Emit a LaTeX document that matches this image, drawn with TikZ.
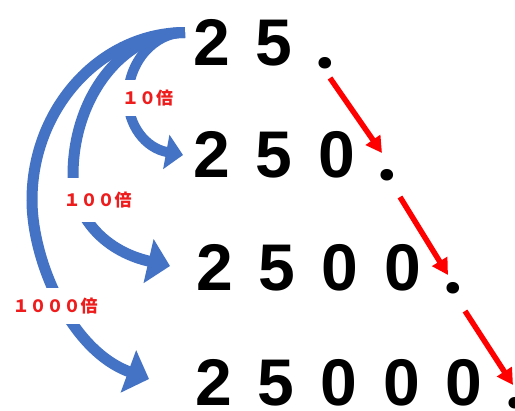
\documentclass[tikz,border=0pt]{standalone}
\usepackage{fontspec}
\newfontfamily\jpfont{Noto Sans CJK JP}
\newfontfamily\numfont{Liberation Sans}
\newfontfamily\dotfont{Poppins}
\usetikzlibrary{arrows.meta}
\definecolor{arrowblue}{HTML}{4472C4}
\definecolor{labelred}{HTML}{EE1C1C}
\definecolor{arrowred}{HTML}{FF0000}
\newcommand\dgap{\kern26bp }
\newcommand\pgap{\kern23.5bp }
\newcommand\bigdot{{\dotfont\fontsize{62bp}{62bp}\selectfont\raisebox{-3bp}{.}}}
\tikzset{
  numtext/.style={font=\numfont\bfseries\fontsize{66bp}{66bp}\selectfont, inner sep=0pt, text=black, anchor=base west},
  timeslabel/.style={font=\jpfont\bfseries\fontsize{17bp}{17bp}\selectfont, text=labelred, fill=white, inner xsep=3bp, inner ysep=0pt, minimum height=36bp},
  bluesmall/.style={draw=arrowblue, line width=10bp, -{Triangle[length=17bp,width=34bp]}, arrowblue},
  bluebig/.style={draw=arrowblue, line width=11bp, -{Triangle[length=22bp,width=44bp]}, arrowblue},
  redarrow/.style={draw=arrowred, line width=5.5bp, -{Triangle[length=16bp,width=17bp]}, arrowred}
}
\begin{document}
\begin{tikzpicture}[x=1bp,y=-1bp]
\useasboundingbox (0,0) rectangle (515,410);
\fill[white] (0,0) rectangle (515,410);
% number rows
\node[numtext] (r1) at (193,65) {2\dgap 5\pgap\bigdot};
\node[numtext] (r2) at (193,177) {2\dgap 5\dgap 0\pgap\bigdot};
\node[numtext] (r3) at (196,290) {2\dgap 5\dgap 0\dgap 0\pgap\bigdot};
\node[numtext] (r4) at (195,405) {2\dgap 5\dgap 0\dgap 0\dgap 0\pgap\bigdot};
% blue curved arrows
\draw[bluebig] ([shift={(-8,-32.5)}]r1.base west) .. controls (101,32.5) and (32,108) .. (32,200)
  .. controls (32,260) and (70,350) .. ([shift={(-46,-26)}]r4.base west);
\draw[bluebig] ([shift={(-8,-32.5)}]r1.base west) .. controls (123,32.5) and (73,97) .. (73,175)
  .. controls (73,212) and (100,250) .. ([shift={(-26,-24)}]r3.base west);
\draw[bluesmall] ([shift={(-8,-32.5)}]r1.base west) .. controls (154,32.5) and (128,62) .. (128,98)
  .. controls (128,125) and (145,148) .. ([shift={(-10,-22)}]r2.base west);
% labels
\node[timeslabel] (l1) at (147.5,98) {１０倍};
\node[timeslabel, minimum height=44bp] (l2) at (97.5,200) {１００倍};
\node[timeslabel] (l3) at (55,306) {１０００倍};
% red arrows
\draw[redarrow] ([shift={(137,13)}]r1.base west) -- ([shift={(189,-24)}]r2.base west);
\draw[redarrow] ([shift={(207,20)}]r2.base west) -- ([shift={(252,-15)}]r3.base west);
\draw[redarrow] ([shift={(269,21)}]r3.base west) -- ([shift={(318,-20)}]r4.base west);
\end{tikzpicture}
\end{document}
